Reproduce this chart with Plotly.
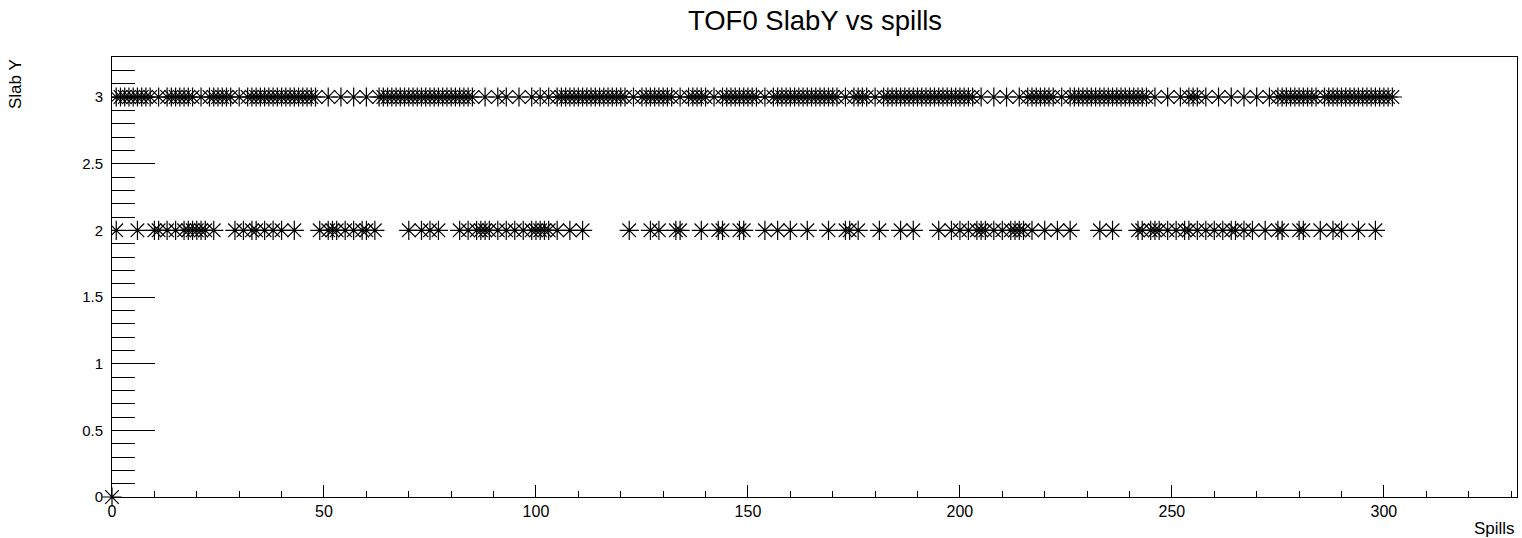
import plotly.graph_objects as go

# Spill numbers that had a hit in each TOF0 slab Y
spills_slab3 = [1, 2, 3, 4, 5, 6, 7, 8, 9, 11, 13, 14, 15, 16, 17, 18, 19, 21, 23, 24, 25, 26, 27, 28,
                30, 32, 33, 34, 35, 36, 37, 38, 39, 40, 41, 42, 43, 44, 45, 46, 47, 48,
                51, 54, 57, 60, 63, 64, 65, 66, 67, 68, 69, 70, 71, 72, 73, 74, 75, 76, 77, 78, 79, 80,
                81, 82, 83, 84, 85, 88, 91, 93, 96, 99, 101, 103,
                105, 106, 107, 108, 109, 110, 111, 112, 113, 114, 115, 116, 117, 118, 119, 120, 121,
                123, 125, 126, 127, 128, 129, 130, 131, 132, 134, 136, 137, 138, 139, 140, 142,
                144, 145, 146, 147, 148, 149, 150, 151, 152, 154,
                156, 157, 158, 159, 160, 161, 162, 163, 164, 165, 166, 167, 168, 169, 170, 171, 173,
                175, 176, 177, 178, 180,
                182, 183, 184, 185, 186, 187, 188, 189, 190, 191, 192, 193, 194, 195, 196, 197, 198,
                199, 200, 201, 202, 203, 205, 208, 211, 214, 216, 217, 218, 219, 220, 221, 222, 224,
                226, 227, 228, 229, 230, 231, 232, 233, 234, 235, 236, 237, 238, 239, 240, 241, 242,
                243, 244, 246, 249, 252, 254, 255, 256, 258, 261, 264, 267, 270, 273,
                275, 276, 277, 278, 279, 280, 281, 282, 283, 284, 286, 287, 288, 289, 290, 291, 292,
                293, 294, 295, 296, 297, 298, 299, 300, 301, 302]

spills_slab2 = [1, 6, 10, 11, 13, 15, 17, 18, 19, 20, 21, 22, 24,
                29, 31, 33, 34, 36, 38, 40, 43,
                49, 51, 52, 53, 55, 57, 59, 60, 62,
                70, 73, 75, 77,
                82, 84, 86, 87, 88, 89, 91, 93, 95, 97, 99, 100, 101, 102, 103, 105, 108, 111,
                122, 127, 129, 133, 134, 139, 143, 144, 148, 149,
                154, 157, 160, 164, 169, 173, 174, 176, 181, 186, 189,
                195, 198, 200, 202, 204, 205, 206, 208, 210, 212, 213, 214, 215, 217, 220, 223, 226,
                233, 236,
                242, 243, 245, 246, 247, 249, 251, 253, 254, 256, 258, 260, 262, 264, 265, 267, 269,
                272, 275, 276, 280, 281, 285, 288, 290, 294, 298]

spills_slab0 = [0]

title_text = "TOF0 SlabY vs spills"
x_title = "Spills"
y_title = "Slab Y"

FONT = "Liberation Sans, Arial, Helvetica, sans-serif"
marker_style = dict(symbol="asterisk-open", size=16, color="black",
                    line=dict(width=1.2, color="black"))

fig = go.Figure()
fig.add_trace(go.Scatter(x=spills_slab3, y=[3] * len(spills_slab3), mode="markers",
                         marker=marker_style, showlegend=False, hoverinfo="skip"))
fig.add_trace(go.Scatter(x=spills_slab2, y=[2] * len(spills_slab2), mode="markers",
                         marker=marker_style, showlegend=False, hoverinfo="skip"))
fig.add_trace(go.Scatter(x=spills_slab0, y=[0] * len(spills_slab0), mode="markers",
                         marker=marker_style, showlegend=False, cliponaxis=False,
                         hoverinfo="skip"))

W, H = 1522, 538
L, R, T, B = 112, 5, 57, 41

fig.update_layout(
    width=W, height=H,
    margin=dict(l=L, r=R, t=T, b=B),
    paper_bgcolor="white", plot_bgcolor="white",
    font=dict(family=FONT, color="black", size=16),
    title=dict(text=title_text, x=815 / W, xanchor="center", xref="container",
               y=1 - 20 / H, yanchor="middle", yref="container",
               font=dict(size=27.5, family=FONT, color="black")),
    xaxis=dict(range=[0, 331.4], dtick=50, tick0=0, ticks="inside", ticklen=12,
               tickwidth=1, tickcolor="black", showgrid=False, zeroline=False,
               showline=True, linecolor="black", linewidth=1, mirror=True,
               tickfont=dict(size=16),
               minor=dict(ticks="inside", ticklen=6, dtick=10, tickcolor="black",
                          tickwidth=1, showgrid=False)),
    yaxis=dict(range=[0, 3.3], dtick=0.5, tick0=0, ticks="inside", ticklen=43,
               tickwidth=1, tickcolor="black", showgrid=False, zeroline=False,
               showline=True, linecolor="black", linewidth=1, mirror=True,
               tickfont=dict(size=15), ticklabelstandoff=5,
               minor=dict(ticks="inside", ticklen=23, dtick=0.1, tickcolor="black",
                          tickwidth=1, showgrid=False)),
    annotations=[
        dict(text=y_title, textangle=-90, xref="paper", yref="paper",
             x=(15 - L) / (W - L - R), y=1.0, xanchor="center", yanchor="top",
             showarrow=False, font=dict(size=17, family=FONT)),
        dict(text=x_title, xref="paper", yref="paper",
             x=1.0, y=-(528 - (H - B)) / (H - T - B), xanchor="right", yanchor="middle",
             showarrow=False, font=dict(size=17, family=FONT)),
    ],
)

fig.write_html("out.html", config={"displayModeBar": False},
               post_script="document.body.style.margin='0px';document.body.style.overflow='hidden';")
